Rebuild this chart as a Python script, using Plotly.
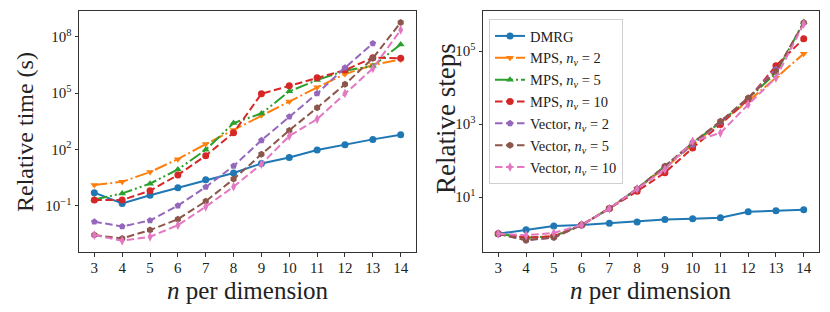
import plotly.graph_objects as go

n_values = [3, 4, 5, 6, 7, 8, 9, 10, 11, 12, 13, 14]

series_names = [
    "DMRG",
    "MPS, <i>n</i><sub><i>v</i></sub> = 2",
    "MPS, <i>n</i><sub><i>v</i></sub> = 5",
    "MPS, <i>n</i><sub><i>v</i></sub> = 10",
    "Vector, <i>n</i><sub><i>v</i></sub> = 2",
    "Vector, <i>n</i><sub><i>v</i></sub> = 5",
    "Vector, <i>n</i><sub><i>v</i></sub> = 10",
]

# Left panel: relative time (s)
time_dmrg = [0.49, 0.13, 0.36, 0.89, 2.4, 5.5, 17.8, 37, 91, 178, 339, 603]
time_mps2 = [1.26, 1.86, 6.2, 30, 190, 1070, 6460, 3.5e4, 2.0e5, 1.02e6, 3.1e6, 6.2e6]
time_mps5 = [0.21, 0.45, 1.48, 8.5, 95, 2500, 8100, 1.23e5, 4.9e5, 1.55e6, 2.75e6, 3.9e7]
time_mps10 = [0.20, 0.20, 0.62, 4.3, 46, 760, 9.1e4, 2.45e5, 6.6e5, 1.66e6, 7.6e6, 7.1e6]
time_vec2 = [0.0138, 0.0078, 0.0162, 0.10, 0.98, 12.9, 302, 5500, 9.5e4, 2.24e6, 4.4e7, None]
time_vec5 = [0.0027, 0.0018, 0.0050, 0.019, 0.17, 2.6, 54, 1020, 1.66e4, 2.9e5, 7.1e6, 5.75e8]
time_vec10 = [0.0027, 0.00135, 0.0022, 0.0091, 0.087, 1.02, 16.2, 513, 4070, 9.5e4, 2.04e6, 2.3e8]

# Right panel: relative steps
steps_dmrg = [1, 1.29, 1.62, 1.74, 1.95, 2.09, 2.45, 2.57, 2.75, 3.98, 4.27, 4.57]
steps_mps2 = [1, 0.78, 0.85, 1.74, 4.9, 17, 63, 275, 1120, 4270, 1.86e4, 8.5e4]
steps_mps5 = [1, 0.78, 0.85, 1.74, 4.9, 17, 71, 309, 1120, 5000, 2.5e4, 6.3e5]
steps_mps10 = [1, 0.78, 0.85, 1.74, 4.9, 14.5, 47, 224, 977, 4790, 4.0e4, 2.2e5]
steps_vec2 = [1, 0.66, 0.79, 1.74, 4.9, 17, 71, 275, 1150, 5250, 3.2e4, None]
steps_vec5 = [1, 0.66, 0.79, 1.74, 4.9, 17, 71, 309, 1200, 5250, 2.8e4, 6.0e5]
steps_vec10 = [1, 0.91, 1.05, 1.74, 4.9, 17, 58, 339, 575, 3470, 1.86e4, 5.6e5]

left_ticks = [0.1, 100, 1e5, 1e8]
left_ticktext = ["10<sup>−1</sup>", "10<sup>2</sup>", "10<sup>5</sup>", "10<sup>8</sup>"]
right_ticks = [10, 1e3, 1e5]
right_ticktext = ["10<sup>1</sup>", "10<sup>3</sup>", "10<sup>5</sup>"]

time_series = [time_dmrg, time_mps2, time_mps5, time_mps10, time_vec2, time_vec5, time_vec10]
steps_series = [steps_dmrg, steps_mps2, steps_mps5, steps_mps10, steps_vec2, steps_vec5, steps_vec10]

colors = ["#1f77b4", "#ff7f0e", "#2ca02c", "#d62728", "#9467bd", "#8c564b", "#e377c2"]
symbols = ["circle", "triangle-down", "triangle-up", "circle", "pentagon", "hexagon", "diamond-tall"]
dashes = ["solid", "13px,3px,2px,3px", "13px,3px,2px,3px,2px,3px", "7.5px,3.5px",
          "7.5px,3.5px", "7.5px,3.5px", "7.5px,3.5px"]

fig = go.Figure()
for i in range(7):
    for panel, data, xa, ya in [(0, time_series[i], "x", "y"), (1, steps_series[i], "x2", "y2")]:
        fig.add_trace(go.Scatter(
            x=n_values, y=data, xaxis=xa, yaxis=ya,
            mode="lines+markers",
            name=series_names[i],
            showlegend=(panel == 1),
            legendgroup=str(i),
            line=dict(color=colors[i], width=2, dash=dashes[i]),
            marker=dict(symbol=symbols[i], size=7, color=colors[i], line=dict(width=0)),
            connectgaps=False,
        ))

# The page body has an 8px default margin; the figure is sized to fit the window.
OFF = 8
FW, FH = 830 - 2 * OFF, 312 - 2 * OFF


def px(x):
    return (x - OFF) / FW


def py(y):
    return 1 - (y - OFF) / FH


font_family = "Liberation Serif"
axis_common = dict(
    showline=True, linecolor="#333", linewidth=1, mirror=True,
    ticks="outside", ticklen=3.5, tickcolor="#333", tickwidth=1,
    showgrid=False, zeroline=False, automargin=False,
    tickfont=dict(family=font_family, size=15, color="#222"),
)
xaxis_extra = dict(ticklabelstandoff=-2)

title_font = dict(family=font_family, size=24, color="#222")
xtitle_font = dict(family=font_family, size=25, color="#222")

fig.update_layout(
    width=FW, height=FH,
    margin=dict(l=0, r=0, t=0, b=0, pad=0, autoexpand=False),
    paper_bgcolor="white", plot_bgcolor="white",
    font=dict(family=font_family, color="#222"),
    xaxis=dict(domain=[px(79), px(416)], range=[2.45, 14.55], tickmode="array", tickvals=n_values,
               anchor="y", **axis_common, **xaxis_extra),
    yaxis=dict(domain=[py(252), py(11)], type="log", range=[-3.47, 9.37], tickmode="array",
               tickvals=left_ticks, ticktext=left_ticktext, anchor="x", **axis_common),
    xaxis2=dict(domain=[px(483), px(819)], range=[2.45, 14.55], tickmode="array", tickvals=n_values,
                anchor="y2", **axis_common, **xaxis_extra),
    yaxis2=dict(domain=[py(252), py(11)], type="log", range=[-0.50, 6.10], tickmode="array",
                tickvals=right_ticks, ticktext=right_ticktext, anchor="x2", **axis_common),
    legend=dict(
        x=px(489), y=py(19), xanchor="left", yanchor="top",
        bgcolor="rgba(255,255,255,0.85)", bordercolor="#d0d0d0", borderwidth=1,
        font=dict(family=font_family, size=14.5, color="#222"),
        itemwidth=30, tracegroupgap=0,
    ),
    annotations=[
        dict(text="Relative time (s)", x=px(25), y=py(132), xref="paper", yref="paper",
             xanchor="center", yanchor="middle", textangle=-90, showarrow=False, font=title_font),
        dict(text="Relative steps", x=px(446), y=py(118), xref="paper", yref="paper",
             xanchor="center", yanchor="middle", textangle=-90, showarrow=False,
             font=dict(family=font_family, size=27, color="#222")),
        dict(text="<i>n</i> per dimension", x=px(248), y=py(290), xref="paper", yref="paper",
             xanchor="center", yanchor="middle", showarrow=False, font=xtitle_font),
        dict(text="<i>n</i> per dimension", x=px(651), y=py(290), xref="paper", yref="paper",
             xanchor="center", yanchor="middle", showarrow=False, font=xtitle_font),
    ],
)

fig.write_html("out.html")
